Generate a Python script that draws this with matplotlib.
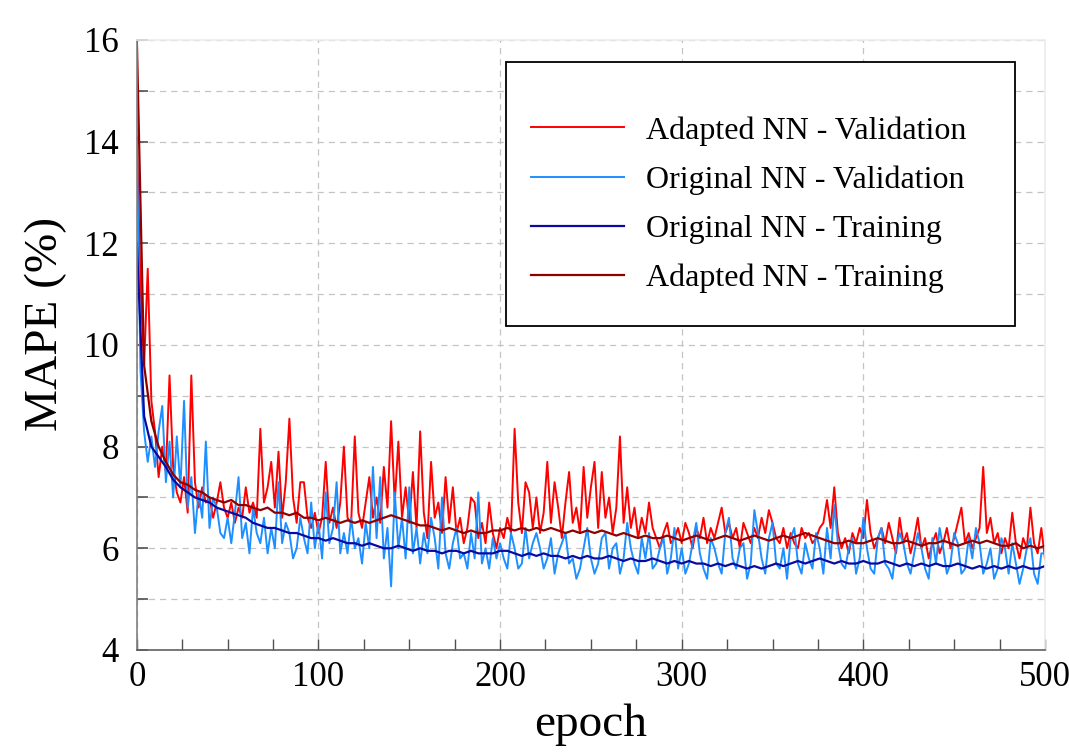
import numpy as np
import matplotlib
matplotlib.use("Agg")
import matplotlib.pyplot as plt
from matplotlib.ticker import MultipleLocator
from matplotlib.patches import Rectangle

plt.rcParams['font.family'] = ['Liberation Serif', 'DejaVu Serif']

# validation curves, read every 2 epochs
epochs_val = np.arange(0, 501, 2)
adapted_val = [
    14.1, 11.2, 9.6, 11.5, 8.9, 8.3, 7.4, 8.0, 7.5, 9.4,
    7.6, 7.1, 6.9, 7.4, 6.7, 9.4, 7.3, 6.8, 7.2, 6.9,
    7.0, 6.6, 6.9, 7.3, 6.8, 6.6, 6.9, 6.5, 6.8, 6.6,
    7.2, 6.7, 6.9, 6.6, 8.35, 6.9, 7.2, 7.7, 6.8, 7.9,
    6.6, 7.3, 8.55, 7.0, 6.5, 7.3, 7.3, 6.6, 6.4, 6.7,
    6.3, 6.6, 7.7, 6.5, 6.8, 6.4, 6.9, 8.0, 6.6, 6.5,
    8.2, 6.7, 6.4, 6.9, 7.4, 6.6, 7.0, 6.5, 7.6, 6.8,
    8.5, 6.9, 8.1, 6.6, 7.2, 6.5, 7.5, 6.4, 8.3, 6.7,
    6.2, 7.7, 6.6, 6.9, 6.3, 7.4, 6.5, 7.2, 6.3, 6.6,
    6.1, 6.4, 7.0, 6.9, 6.2, 6.5, 6.1, 6.9, 6.3, 6.0,
    6.4, 6.2, 6.6, 6.3, 8.35, 6.9, 6.3, 7.3, 7.1, 6.4,
    7.0, 6.3, 6.7, 7.7, 6.5, 7.3, 6.8, 6.2, 6.9, 7.5,
    6.5, 6.8, 6.3, 7.6, 6.6, 7.2, 7.7, 6.4, 7.5, 6.6,
    7.0, 6.3, 6.8, 8.2, 6.5, 7.2, 6.4, 6.8, 6.2, 6.6,
    6.3, 6.9, 6.4, 6.2, 6.0, 6.3, 6.5, 6.1, 6.2, 6.4,
    6.1, 6.5, 6.3, 6.0, 6.4, 6.2, 6.6, 6.1, 6.4, 6.2,
    6.5, 6.8, 6.3, 6.5, 6.2, 6.4, 6.0, 6.5, 6.3, 6.1,
    6.4, 6.2, 6.6, 6.3, 6.75, 6.5, 6.2, 6.1, 6.4, 6.0,
    6.3, 6.1, 6.0, 6.4, 6.2, 6.3, 6.1, 6.2, 6.4, 6.5,
    6.95, 6.4, 7.2, 6.3, 6.0, 6.2, 5.9, 6.3, 6.1, 6.4,
    6.2, 6.95, 6.3, 6.0, 6.2, 6.4, 6.1, 6.5, 6.2, 5.9,
    6.6, 6.1, 6.3, 5.9, 6.2, 6.6, 6.0, 6.2, 5.8, 6.1,
    6.3, 5.9, 6.1, 6.4, 6.0, 6.2, 6.5, 6.8, 6.1, 6.3,
    6.0, 6.2, 6.4, 7.6, 6.3, 6.6, 6.1, 6.3, 5.9, 6.2,
    6.0, 6.7, 6.1, 5.8, 6.2, 6.0, 6.8, 6.1, 5.9, 6.4,
    5.8,
]
original_val = [
    14.0, 9.5, 8.3, 7.7, 8.2, 7.6, 8.3, 8.8, 7.3, 8.1,
    7.0, 8.2, 7.2, 8.9, 6.8, 7.4, 6.3, 7.1, 6.6, 8.1,
    6.4, 7.0, 6.8, 6.3, 6.2, 6.6, 6.1, 6.7, 7.4, 6.2,
    6.5, 5.9, 6.8, 6.3, 6.1, 6.6, 5.9, 6.4, 6.0, 7.3,
    6.1, 6.5, 6.3, 5.8, 6.0, 6.6, 6.2, 5.9, 6.9, 6.0,
    6.5, 5.8, 7.1, 6.1, 6.4, 7.3, 5.9, 6.3, 5.9, 6.6,
    6.0, 6.2, 5.7, 6.5, 6.0, 7.6, 6.2, 7.4, 5.8, 6.4,
    5.25, 7.1, 6.0, 6.6, 5.8, 7.2, 5.9, 6.4, 5.7, 6.3,
    5.9, 6.6, 6.2, 5.6, 7.0, 5.9, 5.6, 6.1, 6.4, 5.8,
    5.9, 5.6, 6.3, 5.8, 7.1, 5.7, 6.0, 5.6, 6.2, 5.8,
    6.1, 5.8, 5.6, 6.3, 6.0, 5.6, 5.7, 6.4, 5.8, 6.1,
    6.3, 6.0, 5.6, 5.8, 6.2, 5.5, 5.9, 6.1, 6.3, 5.7,
    5.8, 5.4, 5.6, 6.0, 6.4, 5.8, 5.5, 5.7, 6.2, 6.3,
    5.6, 6.0, 6.1, 5.5, 5.8, 6.5, 6.0, 5.7, 5.5, 6.2,
    5.8, 6.3, 5.6, 5.7, 6.0, 6.2, 5.5, 5.8, 6.4, 5.6,
    6.0, 5.5, 5.7, 6.1, 6.5, 5.9, 5.6, 5.4, 6.2, 6.0,
    5.7, 5.5, 6.3, 6.6, 5.8, 5.6, 6.0, 6.1, 5.4, 5.7,
    6.75, 6.3, 5.8, 5.5, 6.2, 6.5, 5.7, 5.6, 6.0, 5.4,
    6.2, 6.4, 5.7, 5.5, 6.1, 5.8, 5.6, 6.3, 6.0, 5.5,
    6.4, 5.8, 6.85, 6.1, 5.7, 5.6, 6.0, 6.2, 5.5, 5.8,
    6.6, 6.0, 5.6, 5.5, 6.2, 6.4, 5.7, 5.6, 5.4, 6.0,
    6.3, 6.1, 5.7, 5.5, 5.9, 6.3, 6.0, 5.6, 5.4, 6.2,
    5.7, 6.4, 6.0, 5.5, 5.7, 6.3, 6.1, 5.5, 5.6, 6.2,
    5.8, 6.4, 6.1, 5.5, 5.7, 6.0, 5.4, 5.6, 6.2, 6.0,
    5.5, 6.1, 5.7, 5.3, 5.6, 6.0, 6.2, 5.5, 5.3, 5.9,
    5.9,
]

# training curves, read every 4 epochs
epochs_train = np.arange(0, 501, 4)
original_train = [
    12.0, 8.6, 8.0, 7.8, 7.6, 7.35, 7.2, 7.1, 7.0, 6.95,
    6.9, 6.8, 6.75, 6.7, 6.65, 6.6, 6.5, 6.45, 6.4, 6.4,
    6.35, 6.3, 6.3, 6.25, 6.2, 6.2, 6.15, 6.2, 6.15, 6.1,
    6.1, 6.05, 6.1, 6.05, 6.0, 6.0, 6.05, 6.0, 5.95, 6.0,
    5.95, 5.95, 5.9, 5.95, 5.95, 5.9, 5.95, 5.9, 5.9, 5.9,
    5.95, 5.95, 5.9, 5.85, 5.9, 5.85, 5.9, 5.85, 5.85, 5.8,
    5.85, 5.8, 5.85, 5.8, 5.8, 5.85, 5.8, 5.75, 5.8, 5.75,
    5.75, 5.8, 5.75, 5.7, 5.75, 5.7, 5.75, 5.7, 5.7, 5.65,
    5.7, 5.65, 5.7, 5.65, 5.6, 5.65, 5.6, 5.65, 5.7, 5.65,
    5.7, 5.75, 5.7, 5.75, 5.8, 5.75, 5.7, 5.75, 5.7, 5.7,
    5.75, 5.7, 5.7, 5.75, 5.7, 5.65, 5.7, 5.65, 5.7, 5.65,
    5.7, 5.65, 5.65, 5.7, 5.65, 5.6, 5.65, 5.6, 5.65, 5.6,
    5.65, 5.6, 5.65, 5.6, 5.6, 5.65,
]
adapted_train = [
    16.0, 9.6, 8.5, 8.0, 7.7, 7.45, 7.3, 7.25, 7.15, 7.1,
    7.0, 6.95, 6.9, 6.95, 6.85, 6.85, 6.8, 6.75, 6.8, 6.7,
    6.7, 6.65, 6.7, 6.6, 6.6, 6.55, 6.6, 6.55, 6.5, 6.55,
    6.5, 6.55, 6.5, 6.55, 6.6, 6.65, 6.6, 6.55, 6.5, 6.45,
    6.45, 6.4, 6.35, 6.4, 6.35, 6.3, 6.35, 6.3, 6.3, 6.35,
    6.35, 6.4, 6.35, 6.4, 6.35, 6.4, 6.35, 6.4, 6.35, 6.3,
    6.35, 6.3, 6.35, 6.3, 6.35, 6.3, 6.25, 6.3, 6.25, 6.2,
    6.25, 6.2, 6.2, 6.25, 6.2, 6.15, 6.2, 6.25, 6.2, 6.15,
    6.2, 6.25, 6.2, 6.15, 6.2, 6.25, 6.2, 6.15, 6.2, 6.25,
    6.2, 6.25, 6.3, 6.25, 6.2, 6.15, 6.1, 6.1, 6.15, 6.1,
    6.1, 6.15, 6.2, 6.15, 6.1, 6.1, 6.15, 6.1, 6.05, 6.1,
    6.1, 6.15, 6.1, 6.05, 6.1, 6.15, 6.1, 6.15, 6.1, 6.05,
    6.05, 6.1, 6.0, 6.05, 6.0, 6.05,
]

labels = ["Adapted NN - Validation", "Original NN - Validation",
          "Original NN - Training", "Adapted NN - Training"]

fig = plt.figure(figsize=(10.69, 7.54), dpi=100)
ax = fig.add_axes([0.128, 0.138, 0.8495, 0.809])

ax.plot(epochs_val, adapted_val, color="#ff0000", lw=1.4, label=labels[0])
ax.plot(epochs_val, original_val, color="#1e8fff", lw=1.4, label=labels[1])
ax.plot(epochs_train, original_train, color="#0a0aa0", lw=1.6, label=labels[2])
ax.plot(epochs_train, adapted_train, color="#900000", lw=1.6, label=labels[3])

ax.set_xlim(0, 500)
ax.set_ylim(4, 16)
ax.xaxis.set_major_locator(MultipleLocator(100))
ax.xaxis.set_minor_locator(MultipleLocator(25))
ax.yaxis.set_major_locator(MultipleLocator(2))
ax.yaxis.set_minor_locator(MultipleLocator(1))

ax.grid(True, which="major", axis="x", ls=(0, (5, 4)), color="#c4c4c4", lw=0.9)
ax.grid(True, which="both", axis="y", ls=(0, (5, 4)), color="#c4c4c4", lw=0.9)
ax.set_axisbelow(True)

ax.tick_params(axis="both", which="both", direction="in", colors="#505050",
               labelcolor="black", labelsize=25)
ax.tick_params(axis="y", which="both", length=8, width=1.2, pad=13)
ax.tick_params(axis="x", which="both", length=8, width=1.0, pad=8)

ax.spines["left"].set_color("#808080")
ax.spines["bottom"].set_color("#606060")
ax.spines["top"].set_color("#ececec")
ax.spines["right"].set_color("#ececec")
for s in ax.spines.values():
    s.set_linewidth(1.2)

ax.set_xlabel("epoch", fontsize=34, labelpad=7)
ax.set_ylabel("MAPE (%)", fontsize=34)
ax.yaxis.set_label_coords(-0.077, 0.535)

# legend frame drawn as a plain box, legend entries inside it
ax.add_patch(Rectangle((0.407, 0.531), 0.56, 0.433, transform=ax.transAxes,
                       fill=True, facecolor="white", edgecolor="black", lw=1.3, zorder=5))
leg = ax.legend(loc="center", bbox_to_anchor=(0.674, 0.73), frameon=False,
                fontsize=23, handlelength=2.9, handletextpad=0.7, labelspacing=0.62)
leg.set_zorder(6)

fig.savefig("out.png", dpi=100)
